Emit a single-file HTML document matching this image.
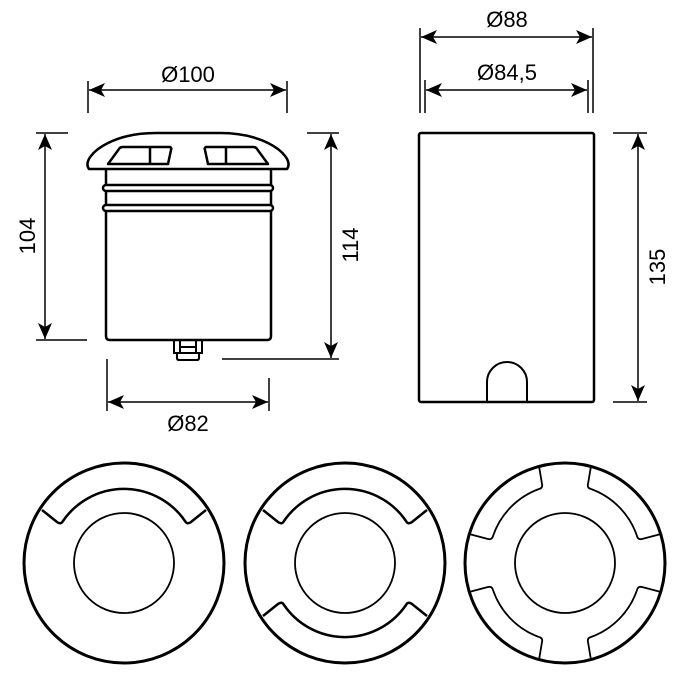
<!DOCTYPE html>
<html><head><meta charset="utf-8"><style>html,body{margin:0;padding:0;background:#fff}svg{display:block}text{font-family:"Liberation Sans",sans-serif;font-size:22px;fill:#000}</style></head>
<body>
<svg width="700" height="700" viewBox="0 0 700 700" xmlns="http://www.w3.org/2000/svg">
<defs>
<marker id="a" markerWidth="20" markerHeight="16" refX="16" refY="7" orient="auto-start-reverse" markerUnits="userSpaceOnUse">
<path d="M16,7 L0,0 L4,7 L0,14 Z" fill="#000"/>
</marker>
</defs>
<g fill="none" stroke="#000">
<!-- Left view dimensions -->
<g stroke-width="1.5">
<line x1="88" y1="81" x2="88" y2="113"/><line x1="287" y1="81" x2="287" y2="113"/>
<line x1="89" y1="90" x2="286" y2="90" marker-start="url(#a)" marker-end="url(#a)"/>
<line x1="36" y1="133" x2="68" y2="133"/><line x1="36" y1="340" x2="87" y2="340"/>
<line x1="45" y1="134" x2="45" y2="339" marker-start="url(#a)" marker-end="url(#a)"/>
<line x1="307" y1="133" x2="339" y2="133"/><line x1="222" y1="359" x2="339" y2="359"/>
<line x1="331" y1="134" x2="331" y2="358" marker-start="url(#a)" marker-end="url(#a)"/>
<line x1="107" y1="359" x2="107" y2="411"/><line x1="269" y1="378" x2="269" y2="411"/>
<line x1="108" y1="402" x2="268" y2="402" marker-start="url(#a)" marker-end="url(#a)"/>
</g>
<!-- Lamp body -->
<g stroke-width="2.5" stroke-linejoin="round">
<path d="M106,169 L106,336 Q106,340 110,340 L267,340 Q271,340 271,336 L271,169"/>
<path d="M89,169 C84,162 92,151 108,143 C122,136 138,133 156,133 L220,133 C238,133 254,136 268,143 C284,151 292,162 287,169 Z"/>
<rect x="103" y="185" width="170" height="6" rx="3" fill="#fff"/>
<rect x="103" y="205" width="170" height="6" rx="3" fill="#fff"/>
<path d="M108,164 L119,149 Q120,147 123,147 L170,147 Q172,148 171,150 L168,164 Z"/>
<path d="M268,164 L257,149 Q256,147 253,147 L206,147 Q204,148 205,150 L208,164 Z"/>
<line x1="150" y1="147" x2="150" y2="164"/><line x1="226" y1="147" x2="226" y2="164"/>
</g>
<g stroke-width="2">
<path d="M174,341 L174,353 L202,353 L202,341"/>
<path d="M177,353 L177,358 Q177,360 179,360 L197,360 Q199,360 199,358 L199,353"/>
<line x1="180" y1="341" x2="180" y2="353"/><line x1="196" y1="341" x2="196" y2="353"/>
<line x1="180" y1="347" x2="196" y2="347"/>
</g>
<!-- Right view -->
<g stroke-width="1.5">
<line x1="420" y1="28" x2="420" y2="113"/><line x1="593" y1="28" x2="593" y2="113"/>
<line x1="421" y1="37" x2="592" y2="37" marker-start="url(#a)" marker-end="url(#a)"/>
<line x1="425" y1="80" x2="425" y2="113"/><line x1="588" y1="80" x2="588" y2="113"/>
<line x1="426" y1="90" x2="587" y2="90" marker-start="url(#a)" marker-end="url(#a)"/>
<line x1="613" y1="133" x2="647" y2="133"/><line x1="613" y1="402" x2="647" y2="402"/>
<line x1="638" y1="134" x2="638" y2="401" marker-start="url(#a)" marker-end="url(#a)"/>
</g>
<rect x="419" y="133" width="175" height="269" rx="2" stroke-width="2.5"/>
<path d="M487,402 L487,382 A20,20 0 0 1 527,382 L527,402" stroke-width="2"/>
<!-- Bottom circles -->
<g stroke-width="3">
<circle cx="124" cy="563" r="100"/><circle cx="345" cy="563" r="100"/><circle cx="565" cy="563" r="100"/>
</g>
<g stroke-width="1.8">
<circle cx="124" cy="563" r="50"/><circle cx="345" cy="563" r="50"/><circle cx="565" cy="563" r="50"/>
</g>
<g stroke-width="2.5" stroke-linejoin="round">
<!-- circle 1 top slot -->
<path d="M42,510 L57,522 Q61,525 63,521 A74,74 0 0 1 185,521 Q187,525 191,522 L206,510"/>
<!-- circle 2 -->
<path d="M263,510 L278,522 Q282,525 284,521 A74,74 0 0 1 406,521 Q408,525 412,522 L427,510"/>
<path d="M263,616 L278,604 Q282,601 284,605 A74,74 0 0 0 406,605 Q408,601 412,604 L427,616"/>
</g>
<g stroke-width="1.8" stroke-linejoin="round">
<!-- circle 3 four slots -->
<path d="M539,466 L542,484 Q543,488 539,489 A76,76 0 0 0 493,536 Q492,540 488,539 L469,534"/>
<path d="M591,466 L588,484 Q587,488 591,489 A76,76 0 0 1 637,536 Q638,540 642,539 L661,534"/>
<path d="M539,660 L542,642 Q543,638 539,637 A76,76 0 0 1 493,590 Q492,586 488,587 L469,592"/>
<path d="M591,660 L588,642 Q587,638 591,637 A76,76 0 0 0 637,590 Q638,586 642,587 L661,592"/>
</g>
</g>
<text x="188" y="82" text-anchor="middle">Ø100</text>
<text x="188" y="431" text-anchor="middle">Ø82</text>
<text x="507" y="27" text-anchor="middle">Ø88</text>
<text x="507" y="80" text-anchor="middle">Ø84,5</text>
<text transform="translate(35,236) rotate(-90)" text-anchor="middle">104</text>
<text transform="translate(358,245) rotate(-90)" text-anchor="middle">114</text>
<text transform="translate(665,267) rotate(-90)" text-anchor="middle">135</text>
</svg>
</body></html>
